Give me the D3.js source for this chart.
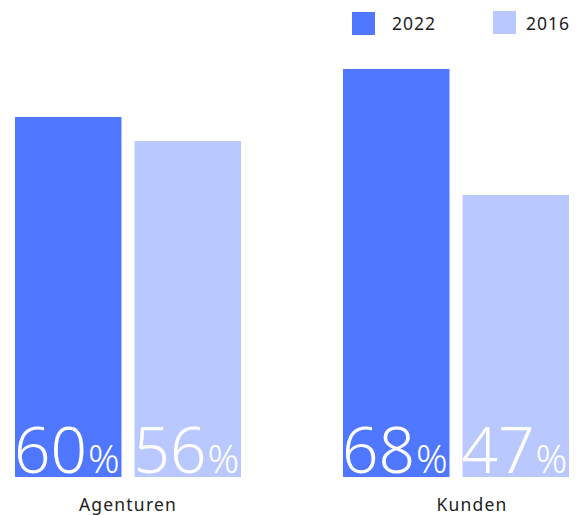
<!DOCTYPE html>
<html>
<head>
<meta charset="utf-8">
<script src="https://cdn.jsdelivr.net/npm/d3@7"></script>
<style>
  html, body { margin: 0; padding: 0; background: #fff; }
  svg { display: block; }
  text { font-family: "Noto Sans", "Open Sans", sans-serif; }
</style>
</head>
<body>
<svg id="chart" width="580" height="515"></svg>
<script>
// Survey shares (percent) per group and year
const categories = ["Agenturen", "Kunden"];
const years = ["2022", "2016"];
const values2022 = [60, 68];
const values2016 = [56, 47];

const colors = { "2022": "#4f77ff", "2016": "#b9c8ff" };

const svg = d3.select("#chart");
const baseY = 477;

const rows = categories.map((c, i) => ({
  category: c,
  items: [
    { year: "2022", value: values2022[i] },
    { year: "2016", value: values2016[i] }
  ]
}));

const x0 = d3.scaleBand().domain(categories).range([15, 569]).paddingInner(0.311);
const x1 = d3.scaleBand().domain(years).range([0, x0.bandwidth()]).paddingInner(0.109);
const y = d3.scaleLinear().domain([0, 75]).range([baseY, 27]);

const groups = svg.selectAll("g.group")
  .data(rows)
  .join("g")
  .attr("class", "group")
  .attr("transform", d => `translate(${x0(d.category)},0)`);

groups.selectAll("rect")
  .data(d => d.items)
  .join("rect")
  .attr("x", d => x1(d.year))
  .attr("y", d => y(d.value))
  .attr("width", x1.bandwidth())
  .attr("height", d => y(0) - y(d.value))
  .attr("fill", d => colors[d.year]);

// Value labels sitting on the bar base: big number plus smaller percent sign
const labels = groups.selectAll("text.value")
  .data(d => d.items)
  .join("text")
  .attr("class", "value")
  .attr("x", d => x1(d.year) - 1)
  .attr("y", baseY - 4)
  .attr("fill", "#fff")
  .style("font-weight", 300);

labels.append("tspan")
  .attr("font-size", 64)
  .text(d => d.value);
labels.append("tspan")
  .attr("font-size", 39)
  .attr("dx", 1)
  .text("%");

// Category labels along the bottom (second one sits a little right of its group centre)
const catShift = [0, 16];
svg.selectAll("text.cat")
  .data(categories)
  .join("text")
  .attr("class", "cat")
  .attr("x", (d, i) => x0(d) + x0.bandwidth() / 2 + catShift[i])
  .attr("y", 511)
  .attr("text-anchor", "middle")
  .attr("font-size", 17.5)
  .attr("letter-spacing", 1.2)
  .attr("fill", "#222")
  .text(d => d);

// Legend
const legendBoxX = [352, 493];
const legendTextX = [392, 526];
const legend = svg.selectAll("g.legend")
  .data(years)
  .join("g")
  .attr("class", "legend");

legend.append("rect")
  .attr("x", (d, i) => legendBoxX[i])
  .attr("y", (d, i) => 12 - i)
  .attr("width", 23)
  .attr("height", 23)
  .attr("fill", d => colors[d]);

legend.append("text")
  .attr("x", (d, i) => legendTextX[i])
  .attr("y", 29.5)
  .attr("font-size", 17.5)
  .attr("letter-spacing", 1)
  .attr("fill", "#222")
  .text(d => d);
</script>
</body>
</html>
